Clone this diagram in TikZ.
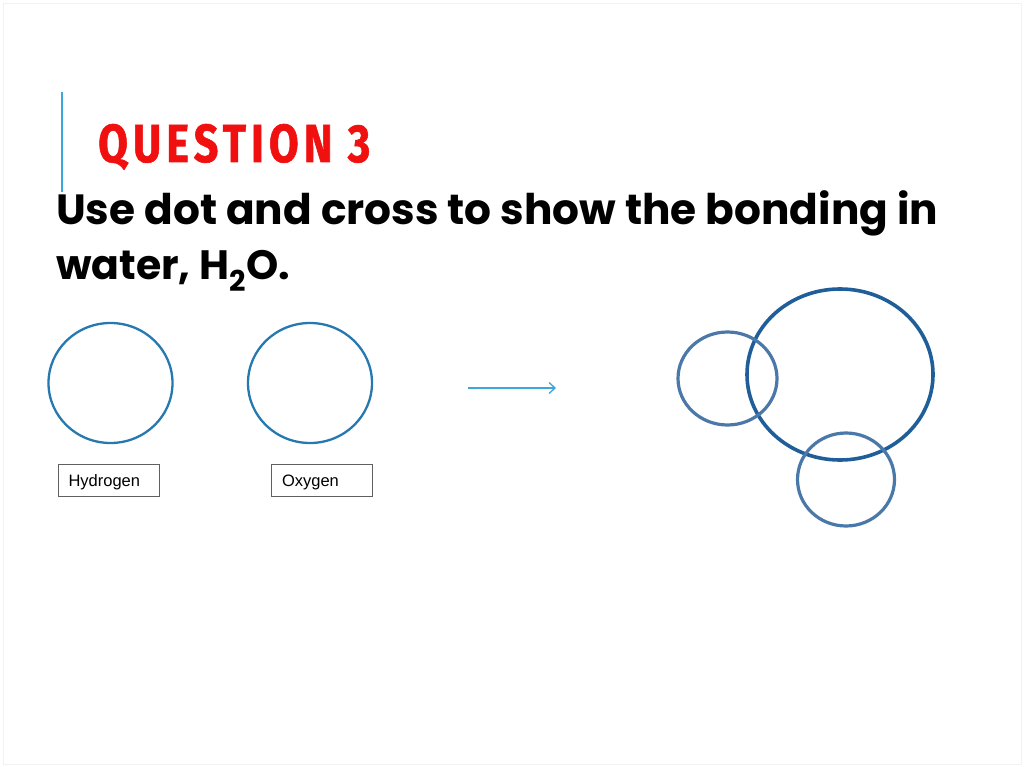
\documentclass[tikz,border=0pt]{standalone}
\usepackage{fontspec}
\setmainfont{Poppins}
\newfontfamily\titlefont[LetterSpace=12,FakeBold=1.2]{Fira Sans}
\newfontfamily\labelfont{Liberation Sans}
\usetikzlibrary{arrows.meta,shapes.geometric}
\definecolor{qred}{HTML}{F01010}
\definecolor{accent}{HTML}{3AA8DC}
\definecolor{shellblue}{HTML}{2678B0}
\definecolor{molblue}{HTML}{4A78A8}
\definecolor{bigblue}{HTML}{1F5E98}
\definecolor{boxgray}{HTML}{606060}
\tikzset{
  shell/.style={draw=shellblue, line width=2.3pt},
  molshell/.style={draw=molblue, line width=3.2pt},
  bigshell/.style={draw=bigblue, line width=3.6pt},
  labelbox/.style={draw=boxgray, line width=0.9pt, minimum width=101pt, minimum height=32pt, inner sep=0pt, font=\labelfont\fontsize{16.5}{19}\selectfont, text width=80pt, align=left, text depth=1pt, text height=14pt},
  bodytext/.style={anchor=base west, inner sep=0pt, font=\bfseries\fontsize{41}{50}\selectfont}
}
\begin{document}
\begin{tikzpicture}[x=1pt,y=-1pt]
\useasboundingbox (0,0) rectangle (1024,767);
\fill[white] (0,0) rectangle (1024,767);
\draw[black!5, line width=0.8pt] (3,3) rectangle (1021,764);
% accent bar
\coordinate (bartop) at (62,92);
\coordinate (barbot) at (62,192);
\draw[accent, line width=2pt] (bartop) -- (barbot);
% title
\node[anchor=base west, inner sep=0pt, text=qred] (title) at (98,162)
  {\resizebox{272pt}{38pt}{\titlefont\bfseries QUESTION 3}};
% body
\node[bodytext] (line1) at (56,225) {\resizebox{882pt}{!}{Use dot and cross to show the bonding in}};
\node[bodytext] (line2) at (56,279) {water, H\textsubscript{2}O.};
% atoms
\node[shell, ellipse, minimum width=124pt, minimum height=120pt, inner sep=0pt] (hatom) at (110.5,383) {};
\node[shell, ellipse, minimum width=124pt, minimum height=120pt, inner sep=0pt] (oatom) at (310,383) {};
\node[labelbox] (hlabel) at (108.5,480) {Hydrogen};
\node[labelbox] (olabel) at (322,480) {Oxygen};
% arrow
\coordinate (arrstart) at (468,388);
\coordinate (arrend) at (556,388);
\draw[accent, line width=1.3pt, -{Straight Barb[length=6pt,width=11pt]}] (arrstart) -- (arrend);
% molecule
\draw[bigshell] (840,374.5) ellipse [x radius=93, y radius=85.5];
\draw[molshell] (727.5,378.5) ellipse [x radius=49.5, y radius=46.5];
\draw[molshell] (846,479.5) ellipse [x radius=48.5, y radius=46.5];
\end{tikzpicture}
\end{document}
